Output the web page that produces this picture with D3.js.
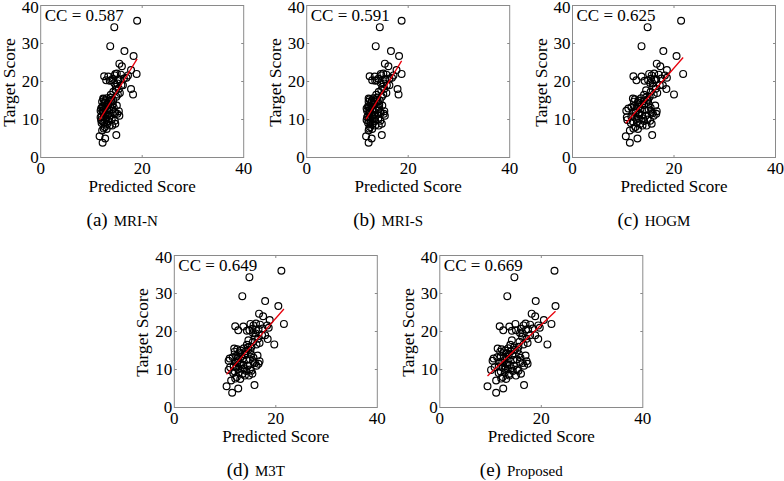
<!DOCTYPE html>
<html><head><meta charset="utf-8">
<script src="https://cdn.jsdelivr.net/npm/d3@7"></script>
<style>
html,body{margin:0;padding:0;background:#fff;}
</style></head>
<body><svg id="chart" width="784" height="481"></svg>
<script>
// Shared target scores (one per subject)
const targets = [36.0,34.3,29.3,28.0,26.7,24.7,24.0,23.0,22.0,21.6,
21.4,20.3,21.3,20.3,21.6,22.1,21.0,20.6,21.8,20.2,
18.0,16.6,17.7,18.1,19.0,19.0,16.6,17.0,16.0,15.5,
15.3,15.0,15.6,14.8,15.2,14.0,14.3,13.7,13.5,13.2,
13.0,12.8,12.5,12.2,11.5,12.0,11.8,11.6,11.2,11.0,
10.8,10.5,10.2,10.0,9.7,9.9,10.6,9.5,9.2,8.8,
8.4,8.4,8.0,7.6,7.1,7.5,5.6,3.9,5.0,5.9,
14.5,13.8,12.0,12.4,13.4,11.3,10.3,12.7,14.0,16.5,
17.3,18.6,19.6,20.7,15.8,11.7,9.1,9.6,12.9,14.7,
10.1,13.1,15.0,12.3,20.8,22.0,20.5,19.5,8.9,11.0];

// Predicted scores per method
const predMRIN = [19.0,14.5,13.7,16.5,18.3,15.5,16.0,17.8,18.9,17.2,
12.5,12.9,13.3,13.9,14.6,15.0,16.9,15.3,15.8,13.6,
17.8,18.2,14.8,15.4,15.9,16.2,15.2,15.6,14.9,12.3,
12.4,12.7,13.0,13.4,13.9,14.2,12.6,15.0,12.2,12.1,
12.5,13.1,13.5,15.4,15.1,14.4,12.3,12.8,13.2,13.7,
12.0,12.4,12.9,14.0,14.6,11.9,11.8,12.2,12.5,13.1,
13.6,14.1,12.6,12.4,12.1,13.0,11.6,12.2,12.7,14.9,
12.6,13.3,12.2,12.3,12.9,12.8,13.5,14.1,13.2,13.8,
14.3,14.8,14.5,14.2,13.8,14.7,12.0,13.4,11.9,12.1,
12.4,14.4,14.3,11.8,16.4,14.7,15.6,15.1,14.7,15.5];

const predMRIS = [18.7,14.4,13.6,16.6,18.2,15.4,16.1,17.7,18.7,17.1,
12.4,12.9,13.4,13.8,14.7,15.1,16.8,15.4,15.7,13.5,
17.9,18.1,14.7,15.3,15.8,16.3,15.1,15.7,14.8,12.2,
12.4,12.8,13.1,13.3,13.8,14.3,12.7,14.9,12.1,12.2,
12.5,13.0,13.6,15.3,15.2,14.5,12.4,12.7,13.3,13.6,
12.1,12.3,13.0,14.1,14.5,11.8,11.9,12.3,12.6,13.0,
13.5,14.2,12.5,12.3,12.2,12.9,11.7,12.2,12.8,14.8,
12.7,13.2,12.3,12.4,12.8,12.9,13.4,14.2,13.3,13.7,
14.2,14.9,14.6,14.1,13.9,14.6,12.1,13.5,11.8,12.2,
12.5,14.3,14.4,11.9,16.3,14.6,15.5,15.2,14.8,15.4];

const predHOGM = [21.4,14.8,13.6,17.9,20.5,16.6,17.3,18.6,21.8,18.2,
12.0,12.6,13.6,14.9,15.6,16.1,18.6,16.5,17.0,14.2,
18.5,20.0,14.5,16.4,17.2,17.8,16.0,16.7,15.2,11.9,
12.3,13.0,13.5,14.0,14.7,15.0,13.2,16.3,12.1,11.6,
12.6,13.4,14.3,16.6,16.5,15.5,12.4,13.0,13.7,14.4,
11.6,12.3,13.1,14.8,15.3,10.8,10.7,11.9,12.7,13.3,
13.8,14.6,12.4,12.0,11.3,12.9,10.5,11.3,12.8,15.7,
12.9,14.1,12.0,12.5,13.1,13.2,13.9,15.0,13.7,14.1,
15.4,15.9,15.3,15.5,14.5,15.8,11.5,14.1,11.0,12.1,
12.6,15.4,14.9,10.6,17.5,15.1,16.2,15.8,15.6,16.0];

const predM3T = [21.1,14.8,13.4,17.9,20.5,16.7,17.5,18.8,21.6,18.3,
12.0,12.6,13.6,14.8,15.6,16.1,18.6,16.6,16.9,14.3,
18.4,19.7,14.6,16.5,17.3,17.9,16.2,16.8,15.2,11.8,
12.4,13.1,13.7,14.1,14.6,15.1,13.0,16.4,12.2,11.5,
12.5,13.5,14.2,16.8,16.6,15.6,12.4,12.9,13.6,14.5,
11.7,12.2,13.3,14.9,15.2,10.7,11.0,11.9,12.7,13.4,
13.9,14.7,12.3,12.0,11.2,13.0,10.3,11.4,12.6,15.8,
12.8,14.0,12.1,12.6,13.2,13.1,13.8,14.9,13.8,14.3,
15.5,15.9,15.5,15.4,14.5,15.9,11.6,14.2,10.9,11.9,
12.6,15.6,15.0,10.7,17.4,15.0,16.1,16.0,15.4,16.2];

const predProposed = [22.6,14.7,13.3,18.9,22.8,18.1,18.8,20.5,22.0,19.4,
11.8,12.5,13.7,15.0,16.5,16.9,19.7,17.4,17.8,14.2,
19.4,21.2,14.2,17.1,17.8,18.8,16.5,17.3,15.5,11.4,
12.2,12.9,13.5,14.0,14.8,15.6,13.2,16.9,12.0,11.3,
12.6,13.6,14.5,17.1,17.3,15.8,12.3,13.0,13.8,14.6,
11.6,12.4,13.4,15.2,15.5,10.1,10.8,12.0,12.8,13.6,
13.7,15.0,12.4,12.1,11.1,13.1,9.4,11.1,12.5,16.6,
12.6,14.3,11.9,12.7,13.1,13.3,14.1,15.2,13.6,13.9,
15.7,16.2,15.8,16.0,14.6,16.3,11.6,14.4,10.6,11.9,
12.9,15.9,15.3,10.4,18.3,14.9,17.0,16.3,16.0,16.6];

const methodNames = ["MRI-N","MRI-S","HOGM","M3T","Proposed"];
const captionLetters = ["(a)","(b)","(c)","(d)","(e)"];
const ccLabels = ["0.587","0.591","0.625","0.649","0.669"];
const xTickValues = [0,20,40];
const yTickValues = [0,10,20,30,40];
const xLabel = "Predicted Score";
const yLabel = "Target Score";

const predictions = [predMRIN,predMRIS,predHOGM,predM3T,predProposed];

// layout (panel boxes)
const W = 203, H = 152;
const panelPos = [
  {x:40.7, y:5.5},
  {x:306.7, y:5.5},
  {x:572.5, y:5.5},
  {x:174.3, y:255.5},
  {x:439.8, y:255.5}
];

const FONT = "Liberation Serif";
const svg = d3.select("#chart");
const axisColor = "#8a8a8a";

function txt(sel){ return sel.append("text").attr("font-family", FONT).attr("fill","#000"); }

predictions.forEach((pred, i) => {
  const p = panelPos[i];
  const g = svg.append("g").attr("transform", `translate(${p.x},${p.y})`);
  const x = d3.scaleLinear().domain([0,40]).range([0,W]);
  const y = d3.scaleLinear().domain([0,40]).range([H,0]);

  // box
  g.append("rect").attr("x",0).attr("y",0).attr("width",W).attr("height",H)
    .attr("fill","none").attr("stroke",axisColor).attr("stroke-width",1);

  // inner ticks (all four sides)
  const tl = 2.5;
  xTickValues.slice(1,-1).forEach(v => {
    g.append("line").attr("x1",x(v)).attr("x2",x(v)).attr("y1",H).attr("y2",H-tl).attr("stroke",axisColor);
    g.append("line").attr("x1",x(v)).attr("x2",x(v)).attr("y1",0).attr("y2",tl).attr("stroke",axisColor);
  });
  yTickValues.slice(1,-1).forEach(v => {
    g.append("line").attr("y1",y(v)).attr("y2",y(v)).attr("x1",0).attr("x2",tl).attr("stroke",axisColor);
    g.append("line").attr("y1",y(v)).attr("y2",y(v)).attr("x1",W).attr("x2",W-tl).attr("stroke",axisColor);
  });

  // tick labels
  xTickValues.forEach(d => {
    txt(g).attr("x", x(d)).attr("y", H + 16).attr("text-anchor","middle")
      .attr("font-size",17).text(d);
  });
  yTickValues.forEach(d => {
    txt(g).attr("x", -2).attr("y", d === 40 ? y(d) + 7.5 : y(d) + 5.5).attr("text-anchor","end")
      .attr("font-size",17).text(d);
  });

  // axis labels
  txt(g).attr("x", W/2).attr("y", H + 34).attr("text-anchor","middle")
    .attr("font-size",17).text(xLabel);
  txt(g).attr("transform", `translate(-26,${H/2 + 1}) rotate(-90)`)
    .attr("text-anchor","middle").attr("font-size",17.5).text(yLabel);

  // points
  const pts = pred.map((v,k) => [v, targets[k]]);
  g.append("g").selectAll("circle").data(pts).enter().append("circle")
    .attr("cx", d => x(d[0])).attr("cy", d => y(d[1])).attr("r", 3.4)
    .attr("fill","none").attr("stroke","#000").attr("stroke-width",1.2);

  // least-squares fit line
  const mx = d3.mean(pts, d => d[0]), my = d3.mean(pts, d => d[1]);
  const sxy = d3.sum(pts, d => (d[0]-mx)*(d[1]-my));
  const sxx = d3.sum(pts, d => (d[0]-mx)*(d[0]-mx));
  const b = sxy / sxx, a0 = my - b*mx;
  const [xmin, xmax] = d3.extent(pts, d => d[0]);
  g.append("line").attr("x1", x(xmin)).attr("y1", y(a0 + b*xmin))
    .attr("x2", x(xmax)).attr("y2", y(a0 + b*xmax))
    .attr("stroke","#e8000b").attr("stroke-width",1.3);

  // CC label
  txt(g).attr("x", 4).attr("y", 15).attr("font-size",17)
    .text("CC = " + ccLabels[i]);

  // caption
  const cap = txt(g).attr("x", W/2 - 20).attr("y", H + 68)
    .attr("text-anchor","middle");
  cap.append("tspan").attr("font-size",19).text(captionLetters[i]);
  cap.append("tspan").attr("font-size",15).attr("dx",6).text(methodNames[i]);
});
</script>
</body></html>
